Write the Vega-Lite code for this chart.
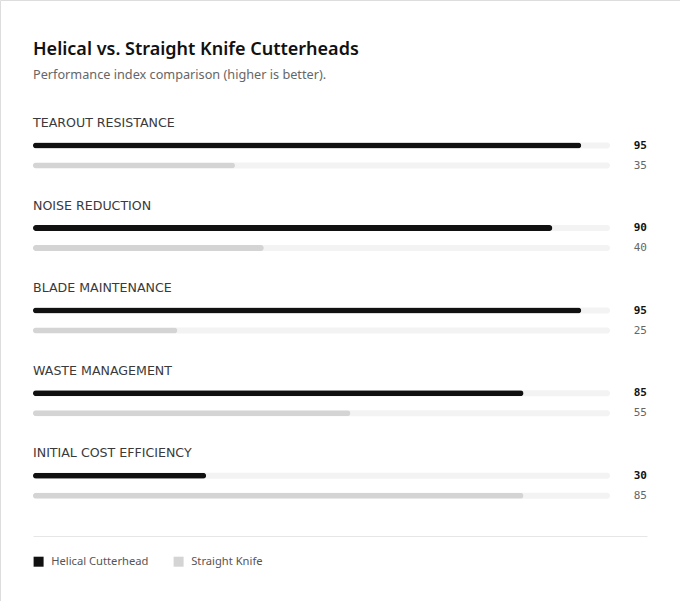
{
  "$schema": "https://vega.github.io/schema/vega-lite/v6.json",
  "width": 680,
  "height": 601,
  "padding": 0,
  "autosize": {"type": "none"},
  "background": "#ffffff",
  "title": {
    "text": "Helical vs. Straight Knife Cutterheads",
    "subtitle": "Performance index comparison (higher is better).",
    "anchor": "start",
    "frame": "group",
    "orient": "top",
    "offset": -82,
    "dx": 33,
    "font": "Noto Sans",
    "fontSize": 18,
    "fontWeight": 600,
    "color": "#111111",
    "subtitleFont": "Noto Sans",
    "subtitleFontSize": 12.7,
    "subtitleColor": "#666666",
    "subtitlePadding": 10
  },
  "data": {
    "values": [
      {"category": "TEAROUT RESISTANCE", "series": "Helical Cutterhead", "value": 95},
      {"category": "TEAROUT RESISTANCE", "series": "Straight Knife", "value": 35},
      {"category": "NOISE REDUCTION", "series": "Helical Cutterhead", "value": 90},
      {"category": "NOISE REDUCTION", "series": "Straight Knife", "value": 40},
      {"category": "BLADE MAINTENANCE", "series": "Helical Cutterhead", "value": 95},
      {"category": "BLADE MAINTENANCE", "series": "Straight Knife", "value": 25},
      {"category": "WASTE MANAGEMENT", "series": "Helical Cutterhead", "value": 85},
      {"category": "WASTE MANAGEMENT", "series": "Straight Knife", "value": 55},
      {"category": "INITIAL COST EFFICIENCY", "series": "Helical Cutterhead", "value": 30},
      {"category": "INITIAL COST EFFICIENCY", "series": "Straight Knife", "value": 85}
    ]
  },
  "encoding": {
    "y": {
      "field": "category",
      "type": "nominal",
      "sort": null,
      "scale": {"range": [105.5, 518.25], "paddingInner": 0, "paddingOuter": 0},
      "axis": null
    }
  },
  "layer": [
    {
      "mark": {"type": "bar", "height": 6, "cornerRadius": 3, "color": "#f3f3f3"},
      "encoding": {
        "x": {
          "datum": 100,
          "type": "quantitative",
          "scale": {"domain": [0, 106.4], "range": [33, 647], "nice": false, "zero": true},
          "axis": {
            "offset": -65,
            "labels": false,
            "ticks": false,
            "grid": false,
            "title": null,
            "domainColor": "#e6e6e6",
            "domainWidth": 1
          }
        },
        "yOffset": {
          "field": "series",
          "type": "nominal",
          "scale": {"range": [30, 70], "paddingInner": 0, "paddingOuter": 0}
        }
      }
    },
    {
      "mark": {"type": "bar", "height": 6, "cornerRadius": 3},
      "encoding": {
        "x": {"field": "value", "type": "quantitative"},
        "yOffset": {"field": "series", "type": "nominal"},
        "color": {
          "field": "series",
          "type": "nominal",
          "scale": {"domain": ["Helical Cutterhead", "Straight Knife"], "range": ["#111111", "#d4d4d4"]},
          "legend": {
            "title": null,
            "orient": "none",
            "legendX": 33,
            "legendY": 556,
            "direction": "horizontal",
            "symbolType": "square",
            "symbolSize": 100,
            "symbolStrokeWidth": 0,
            "labelFont": "Noto Sans",
            "labelFontSize": 11.2,
            "labelColor": "#555555",
            "labelOffset": 7,
            "columnPadding": 24
          }
        }
      }
    },
    {
      "transform": [{"filter": "datum.series === 'Helical Cutterhead'"}],
      "mark": {"type": "text", "align": "right", "baseline": "middle", "font": "DejaVu Sans Mono", "fontSize": 11, "fontWeight": "bold", "color": "#111111"},
      "encoding": {
        "x": {"datum": 106.4, "type": "quantitative"},
        "yOffset": {"field": "series", "type": "nominal"},
        "text": {"field": "value", "type": "quantitative"}
      }
    },
    {
      "transform": [{"filter": "datum.series === 'Straight Knife'"}],
      "mark": {"type": "text", "align": "right", "baseline": "middle", "font": "DejaVu Sans Mono", "fontSize": 11, "color": "#666666"},
      "encoding": {
        "x": {"datum": 106.4, "type": "quantitative"},
        "yOffset": {"field": "series", "type": "nominal"},
        "text": {"field": "value", "type": "quantitative"}
      }
    },
    {
      "transform": [{"filter": "datum.series === 'Helical Cutterhead'"}],
      "mark": {"type": "text", "align": "left", "baseline": "middle", "font": "DejaVu Sans", "fontSize": 12.6, "color": "#3a3a3a"},
      "encoding": {
        "x": {"datum": 0, "type": "quantitative"},
        "y": {"field": "category", "type": "nominal", "sort": null, "bandPosition": 0.212},
        "text": {"field": "category", "type": "nominal"}
      }
    }
  ],
  "config": {
    "view": {"stroke": "#dddddd", "strokeWidth": 1}
  }
}
